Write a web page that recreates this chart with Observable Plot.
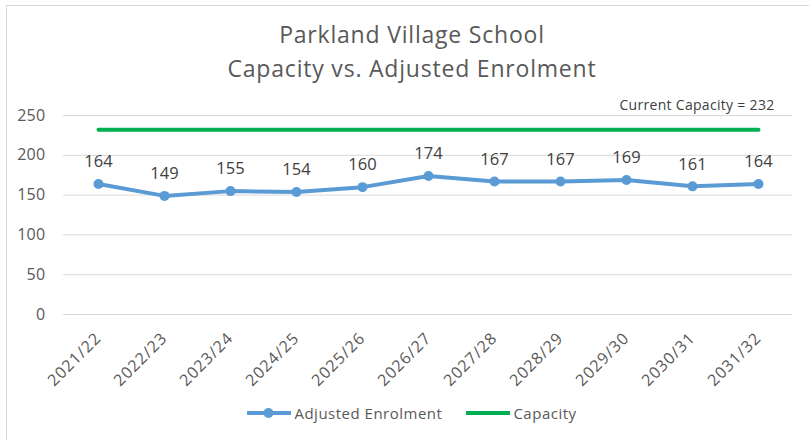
<!DOCTYPE html>
<html>
<head>
<meta charset="utf-8">
<script src="https://cdn.jsdelivr.net/npm/d3@7"></script>
<script src="https://cdn.jsdelivr.net/npm/@observablehq/plot@0.6"></script>
<style>
  html, body { margin: 0; padding: 0; background: #fff; width: 809px; height: 440px; overflow: hidden; }
  body { font-family: "Open Sans", Lato, sans-serif; color: #595959; position: relative; }
  #frame { position: absolute; left: 6px; top: 5px; width: 830px; height: 460px; border: 1px solid #d9d9d9; box-sizing: border-box; }
  #title { position: absolute; left: 0; top: 18px; width: 824px; text-align: center; font-size: 23px; line-height: 33.5px; letter-spacing: 0.8px; color: #595959; }
  #chart { position: absolute; left: 0; top: 90px; }
  #legend { position: absolute; left: 0; top: 403px; width: 824px; display: flex; justify-content: center; align-items: center; font-size: 15px; letter-spacing: 0.5px; color: #595959; }
  .item { display: flex; align-items: center; }
  .item svg { margin-right: 3px; }
  [aria-label="x-axis tick label"] text { letter-spacing: 1px; }
  [aria-label="y-axis tick label"] text { letter-spacing: 0.3px; }
  .caplabel text { letter-spacing: 0.3px; }
</style>
</head>
<body>
<div id="frame"></div>
<div id="title">Parkland Village School<br>Capacity vs. Adjusted Enrolment</div>
<div id="chart"></div>
<div id="legend"></div>
<script>
const years = ["2021/22","2022/23","2023/24","2024/25","2025/26","2026/27","2027/28","2028/29","2029/30","2030/31","2031/32"];
const enrolment = [164,149,155,154,160,174,167,167,169,161,164];
const capacity = [232,232,232,232,232,232,232,232,232,232,232];
const yTicks = [0,50,100,150,200,250];
const seriesNames = ["Adjusted Enrolment","Capacity"];
const colors = ["#5B9BD5","#00B050"];
const capacityLabel = "Current Capacity = 232";

const enrolData = years.map((y, i) => ({year: y, value: enrolment[i]}));
const capData = years.map((y, i) => ({year: y, value: capacity[i]}));

const chart = Plot.plot({
  width: 809,
  height: 300,
  marginLeft: 63,
  marginRight: 17,
  marginTop: 25,
  marginBottom: 76,
  style: {fontFamily: '"Open Sans", Lato, sans-serif', color: "#595959", background: "transparent"},
  x: {type: "band", domain: years, label: null, padding: 0},
  y: {domain: [0, 250], label: null},
  marks: [
    Plot.gridY(yTicks, {stroke: "#d9d9d9", strokeOpacity: 1, strokeWidth: 1}),
    Plot.axisY(yTicks, {tickSize: 0, tickPadding: 18, fontSize: 16, fill: "#595959", label: null}),
    Plot.axisX({tickSize: 0, tickPadding: 21, tickRotate: -45, fontSize: 16, fill: "#595959", label: null}),
    Plot.line(capData, {x: "year", y: "value", stroke: colors[1], strokeWidth: 4}),
    Plot.line(enrolData, {x: "year", y: "value", stroke: colors[0], strokeWidth: 4}),
    Plot.dot(enrolData, {x: "year", y: "value", r: 5, fill: colors[0], stroke: "none"}),
    Plot.text(enrolData, {x: "year", y: "value", text: d => String(d.value), dy: -22, fontSize: 16.5, fill: "#404040"}),
    Plot.text([capData[capData.length - 1]], {x: "year", y: "value", text: () => capacityLabel, dy: -24, dx: 16, textAnchor: "end", fontSize: 14, fill: "#404040", className: "caplabel"})
  ]
});
document.getElementById("chart").appendChild(chart);

const legend = document.getElementById("legend");
seriesNames.forEach((name, i) => {
  const item = document.createElement("div");
  item.className = "item";
  item.style.marginRight = i === 0 ? "24px" : "0";
  const marker = i === 0 ? `<circle cx="21.5" cy="7" r="5" fill="${colors[i]}"/>` : "";
  item.innerHTML = `<svg width="44" height="14"><line x1="1" x2="43" y1="7" y2="7" stroke="${colors[i]}" stroke-width="4" stroke-linecap="round"/>${marker}</svg><span>${name}</span>`;
  legend.appendChild(item);
});
</script>
</body>
</html>
